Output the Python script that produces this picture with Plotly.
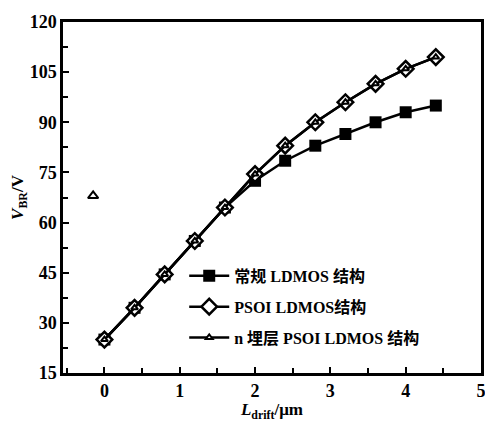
import plotly.graph_objects as go

x_drift = [0, 0.4, 0.8, 1.2, 1.6, 2.0, 2.4, 2.8, 3.2, 3.6, 4.0, 4.4]
v_conv = [25, 34.5, 44.5, 54.5, 64.5, 72.5, 78.5, 83, 86.5, 90, 93, 95]
v_psoi = [25, 34.5, 44.5, 54.5, 64.5, 74.5, 83, 90, 96, 101.5, 106, 109.5]
v_nbur = [25, 34.5, 44.5, 54.5, 64.5, 74.5, 83, 90, 96, 101.5, 106, 109.5]
lone_x = [-0.15]
lone_y = [68]

names = ["常规 LDMOS 结构", "PSOI LDMOS结构", "n 埋层 PSOI LDMOS 结构"]
font_fam = "Liberation Serif, Noto Sans CJK SC, serif"

fig = go.Figure()
fig.add_trace(go.Scatter(x=x_drift, y=v_conv, mode="lines+markers", name=names[0], legendgroup="a",
                         line=dict(color="black", width=2.5),
                         marker=dict(symbol="square", size=12, color="black")))
fig.add_trace(go.Scatter(x=x_drift, y=v_psoi, mode="lines+markers", name=names[1], legendgroup="b",
                         line=dict(color="black", width=2.5),
                         marker=dict(symbol="diamond", size=12, color="white",
                                     line=dict(color="black", width=2.5))))
fig.add_trace(go.Scatter(x=x_drift, y=v_nbur, mode="lines+markers", name=names[2], legendgroup="c",
                         line=dict(color="black", width=2.5),
                         marker=dict(symbol="triangle-up", size=6, color="white",
                                     line=dict(color="black", width=2))))
fig.add_trace(go.Scatter(x=lone_x, y=lone_y, mode="markers", showlegend=False,
                         marker=dict(symbol="triangle-up", size=9, color="white",
                                     line=dict(color="black", width=2))))

fig.update_layout(
    width=485, height=422,
    margin=dict(l=63, r=4, t=22, b=49, autoexpand=False),
    plot_bgcolor="white", paper_bgcolor="white",
    font=dict(family=font_fam, color="black", size=16),
    legend=dict(x=0.29, y=0.325, xanchor="left", yanchor="top",
                bgcolor="rgba(0,0,0,0)", font=dict(size=16, family=font_fam, weight="bold"),
                tracegroupgap=7, itemwidth=40),
    xaxis=dict(range=[-0.55, 5], tickmode="array", tickvals=[0, 1, 2, 3, 4, 5],
               ticks="inside", ticklen=6, tickwidth=2, tickcolor="black",
               minor=dict(dtick=0.5, tick0=0, ticks="inside", ticklen=5, tickwidth=2, tickcolor="black"),
               showline=True, linecolor="black", linewidth=2.5, mirror=True,
               showgrid=False, zeroline=False, automargin=False,
               ticklabeloverflow="allow",
               tickfont=dict(size=18, weight="bold"),
               title=dict(text="<i>L</i><sub>drift</sub>/μm", font=dict(size=17, weight="bold"), standoff=2)),
    yaxis=dict(range=[15, 120], tickmode="array", tickvals=[15, 30, 45, 60, 75, 90, 105, 120],
               ticks="inside", ticklen=6, tickwidth=2, tickcolor="black",
               minor=dict(dtick=7.5, tick0=15, ticks="inside", ticklen=5, tickwidth=2, tickcolor="black"),
               showline=True, linecolor="black", linewidth=2.5, mirror=True,
               showgrid=False, zeroline=False, automargin=False,
               ticklabeloverflow="allow",
               tickfont=dict(size=18, weight="bold"),
               title=dict(text="<i>V</i><sub>BR</sub>/V", font=dict(size=17, weight="bold"), standoff=2)),
)

fig.write_html("out.html", config={"displayModeBar": False},
               post_script="document.body.style.margin='0';document.body.style.overflow='hidden';")
